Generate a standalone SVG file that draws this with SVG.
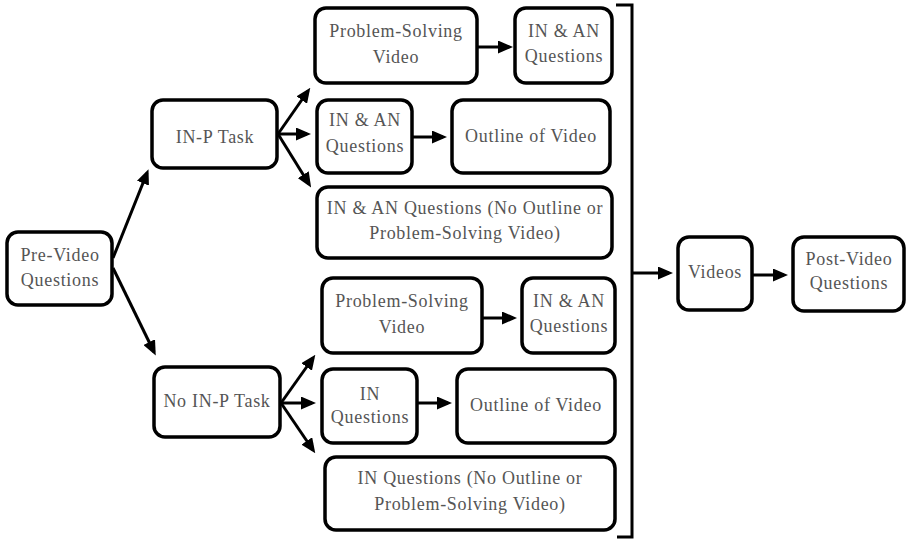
<svg xmlns="http://www.w3.org/2000/svg" width="907" height="540" viewBox="0 0 907 540">
<defs>
<marker id="ah" markerUnits="userSpaceOnUse" markerWidth="15" markerHeight="13" refX="11" refY="6.5" orient="auto">
<path d="M0,0 L15,6.5 L0,13 z" fill="#000"/>
</marker>
<style>
.box{fill:#fff;stroke:#000;stroke-width:3.5}
.t{font-family:'Liberation Serif','Times New Roman',serif;font-size:18px;letter-spacing:0.7px;fill:#555;text-anchor:middle}
.c{stroke:#000;stroke-width:3;fill:none}
.a{marker-end:url(#ah)}
</style>
</defs>
<rect width="907" height="540" fill="#fff"/>

<g id="pre-video">
<rect class="box" x="7" y="232" width="105" height="73" rx="11"/>
<text class="t" font-family="Liberation Serif" x="60" y="261">Pre-Video</text>
<text class="t" font-family="Liberation Serif" x="60" y="286">Questions</text>
</g>
<g id="inp-task">
<rect class="box" x="152" y="100" width="125" height="68" rx="11"/>
<text class="t" x="215" y="143">IN-P Task</text>
</g>
<g id="no-inp-task">
<rect class="box" x="154" y="367" width="126" height="70" rx="11"/>
<text class="t" x="217" y="407">No IN-P Task</text>
</g>

<g id="a-ps-video">
<rect class="box" x="315" y="8" width="162" height="75" rx="11"/>
<text class="t" x="396" y="37">Problem-Solving</text>
<text class="t" x="396" y="63">Video</text>
</g>
<g id="a-inan-q1">
<rect class="box" x="515" y="8" width="97" height="75" rx="11"/>
<text class="t" x="564" y="37">IN &amp; AN</text>
<text class="t" x="564" y="62">Questions</text>
</g>
<g id="a-inan-q2">
<rect class="box" x="317" y="100" width="95" height="73" rx="11"/>
<text class="t" x="365" y="126">IN &amp; AN</text>
<text class="t" x="365" y="152">Questions</text>
</g>
<g id="a-outline">
<rect class="box" x="452" y="100" width="158" height="73" rx="11"/>
<text class="t" x="531" y="142">Outline of Video</text>
</g>
<g id="a-inan-only">
<rect class="box" x="317" y="187" width="295" height="71" rx="11"/>
<text class="t" x="465" y="214">IN &amp; AN Questions (No Outline or</text>
<text class="t" x="465" y="239">Problem-Solving Video)</text>
</g>

<g id="b-ps-video">
<rect class="box" x="322" y="278" width="160" height="75" rx="11"/>
<text class="t" x="402" y="307">Problem-Solving</text>
<text class="t" x="402" y="333">Video</text>
</g>
<g id="b-inan-q">
<rect class="box" x="522" y="278" width="93" height="75" rx="11"/>
<text class="t" x="569" y="307">IN &amp; AN</text>
<text class="t" x="569" y="332">Questions</text>
</g>
<g id="b-in-q">
<rect class="box" x="322" y="369" width="95" height="74" rx="11"/>
<text class="t" x="370" y="400">IN</text>
<text class="t" x="370" y="423">Questions</text>
</g>
<g id="b-outline">
<rect class="box" x="457" y="369" width="158" height="74" rx="11"/>
<text class="t" x="536" y="411">Outline of Video</text>
</g>
<g id="b-in-only">
<rect class="box" x="325" y="457" width="290" height="73" rx="11"/>
<text class="t" x="470" y="484">IN Questions (No Outline or</text>
<text class="t" x="470" y="510">Problem-Solving Video)</text>
</g>

<g id="videos">
<rect class="box" x="678" y="237" width="74" height="73" rx="11"/>
<text class="t" x="715" y="278">Videos</text>
</g>
<g id="post-video">
<rect class="box" x="793" y="237" width="111" height="74" rx="11"/>
<text class="t" x="849" y="265">Post-Video</text>
<text class="t" x="849" y="289">Questions</text>
</g>

<g id="connectors">
<path class="c" d="M616,5 H632 V537 H617"/>
<line class="c a" x1="113" y1="258" x2="147" y2="173"/>
<line class="c a" x1="113" y1="268" x2="154" y2="352"/>
<line class="c a" x1="278" y1="134" x2="308" y2="91"/>
<line class="c a" x1="278" y1="134" x2="307" y2="134"/>
<line class="c a" x1="278" y1="134" x2="309" y2="184"/>
<line class="c a" x1="281" y1="403" x2="313" y2="358"/>
<line class="c a" x1="281" y1="403" x2="312" y2="403"/>
<line class="c a" x1="281" y1="403" x2="313" y2="450"/>
<line class="c a" x1="477" y1="47" x2="509" y2="47"/>
<line class="c a" x1="412" y1="137" x2="443" y2="137"/>
<line class="c a" x1="482" y1="318" x2="513" y2="318"/>
<line class="c a" x1="417" y1="403" x2="448" y2="403"/>
<line class="c a" x1="633" y1="273" x2="669" y2="273"/>
<line class="c a" x1="752" y1="275" x2="784" y2="275"/>
</g>
</svg>
